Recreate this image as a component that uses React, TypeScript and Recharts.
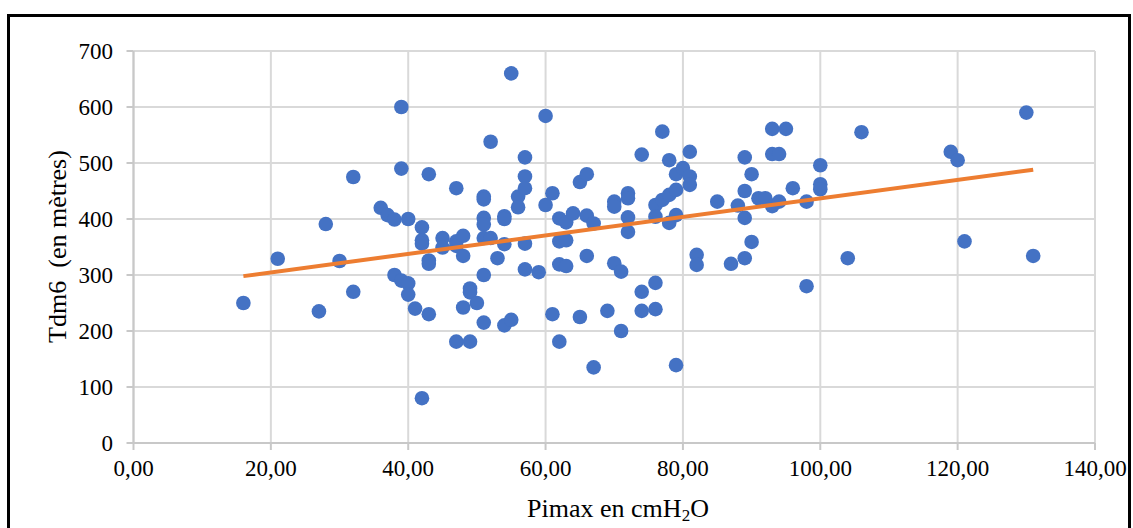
import React from "react";
import {
  ScatterChart,
  Scatter,
  XAxis,
  YAxis,
  CartesianGrid,
  Label,
} from "recharts";

// Pimax (cmH2O) values
const pimax = [
  16, 21, 27, 28, 30, 32, 32, 36, 37, 38, 38, 39, 39, 39, 40, 40, 40, 41, 42, 42,
  42, 42, 43, 43, 43, 43, 45, 45, 47, 47, 47, 47, 48, 48, 48, 49, 49, 49, 50, 51,
  51, 51, 51, 51, 51, 51, 52, 52, 53, 54, 54, 54, 54, 55, 55, 56, 56, 57, 57, 57,
  57, 57, 59, 60, 60, 61, 61, 62, 62, 62, 62, 63, 63, 63, 64, 65, 65, 66, 66, 66,
  67, 67, 69, 70, 70, 70, 71, 71, 72, 72, 72, 72, 74, 74, 74, 76, 76, 76, 76, 77,
  77, 78, 78, 78, 79, 79, 79, 79, 80, 81, 81, 81, 82, 82, 85, 87, 88, 89, 89, 89,
  89, 90, 90, 91, 92, 93, 95, 93, 94, 93, 94, 96, 98, 98, 100, 100, 100, 104, 106, 119,
  120, 121, 130, 131,
];

// Tdm6 (metres)
const tdm6 = [
  250, 329, 235, 391, 325, 475, 270, 420, 407, 399, 300, 600, 490, 290, 400, 285, 265, 240, 80, 385,
  362, 356, 480, 326, 320, 230, 366, 349, 455, 360, 352, 181, 370, 334, 242, 276, 269, 181, 250, 440,
  435, 402, 390, 366, 300, 215, 538, 366, 330, 405, 400, 355, 210, 220, 660, 440, 421, 510, 476, 455,
  356, 310, 305, 584, 425, 446, 230, 401, 360, 319, 181, 394, 362, 316, 410, 466, 225, 480, 406, 334,
  392, 135, 236, 431, 422, 321, 306, 200, 446, 437, 403, 377, 515, 270, 236, 425, 404, 286, 239, 556,
  434, 505, 443, 393, 480, 452, 407, 139, 491, 520, 476, 461, 336, 318, 431, 320, 424, 510, 450, 402,
  330, 480, 359, 437, 437, 561, 561, 516, 516, 423, 431, 455, 431, 280, 496, 462, 453, 330, 555, 520,
  505, 360, 590, 334,
];

// linear trend line ends, as drawn in the picture
const trendX = [16, 131];
const trendY = [298, 488];

const xTicks = [0, 20, 40, 60, 80, 100, 120, 140];
const yTicks = [0, 100, 200, 300, 400, 500, 600, 700];

const points = pimax.map((x, i) => ({ x, y: tdm6[i] }));
const trend = trendX.map((x, i) => ({ x, y: trendY[i] }));

const FONT = "'Liberation Serif', 'Times New Roman', serif";
const tickStyle = { fill: "#000", fontSize: 23, fontFamily: FONT };

const Dot = (props: any) => (
  <circle cx={props.cx} cy={props.cy} r={7.3} fill="#4472C4" />
);

export default function App() {
  return (
    <div style={{ position: "absolute", left: 0, top: 0, width: 1133, height: 528, background: "#fff", overflow: "hidden" }}>
      <div
        style={{
          position: "absolute",
          left: 7,
          top: 14,
          width: 1124,
          height: 540,
          boxSizing: "border-box",
          border: "3.5px solid #000",
        }}
      />
      <ScatterChart
        width={1133}
        height={528}
        margin={{ top: 51, right: 38, left: 0, bottom: 0 }}
        style={{ position: "absolute", left: 0, top: 0 }}
      >
        <CartesianGrid stroke="#D9D9D9" strokeWidth={2} />
        <XAxis
          type="number"
          dataKey="x"
          domain={[0, 140]}
          ticks={xTicks}
          height={85}
          tick={tickStyle}
          tickSize={7}
          tickMargin={10}
          stroke="#C8C8C8"
          strokeWidth={2}
          tickFormatter={(v: number) => v.toFixed(2).replace(".", ",")}
        >
          <Label
            content={() => (
              <text x={618} y={516.5} textAnchor="middle" fontFamily={FONT} fontSize={26} fill="#000">
                Pimax en cmH
                <tspan fontSize={17} dy={4}>2</tspan>
                <tspan dy={-4}>O</tspan>
              </text>
            )}
          />
        </XAxis>
        <YAxis
          type="number"
          dataKey="y"
          domain={[0, 700]}
          ticks={yTicks}
          width={133.5}
          tick={tickStyle}
          tickSize={7}
          tickMargin={13.5}
          stroke="#C8C8C8"
          strokeWidth={2}
        >
          <Label
            content={() => (
              <text
                x={65.5}
                y={246.5}
                transform="rotate(-90, 65.5, 246.5)"
                textAnchor="middle"
                fontFamily={FONT}
                fontSize={26}
                fill="#000"
                style={{ whiteSpace: "pre" }}
              >
                {"Tdm6  (en mètres)"}
              </text>
            )}
          />
        </YAxis>
        <Scatter data={points} shape={Dot} isAnimationActive={false} />
        <Scatter
          data={trend}
          line={{ stroke: "#ED7D31", strokeWidth: 4 }}
          shape={() => <g />}
          isAnimationActive={false}
        />
      </ScatterChart>
    </div>
  );
}
